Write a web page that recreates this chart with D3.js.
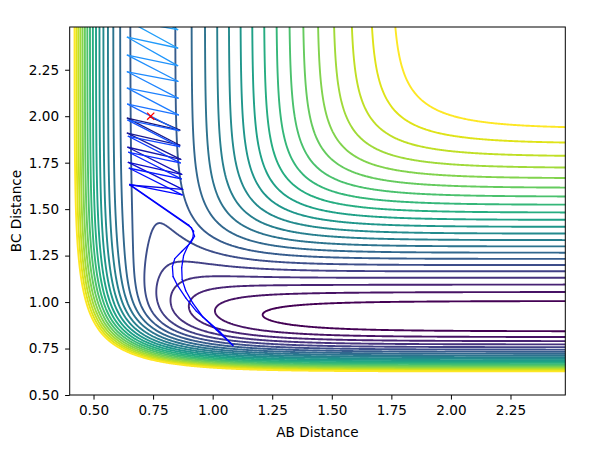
<!DOCTYPE html>
<html>
<head>
<meta charset="utf-8">
<script src="https://cdn.jsdelivr.net/npm/d3@7"></script>
<style>
body { margin: 0; background: #fff; }
svg text { font-family: "DejaVu Sans", sans-serif; fill: #000; }
</style>
</head>
<body>
<svg id="chart" width="605" height="449"></svg>
<script>
//////////////////////////////////////////////////////////////////////////////
//LEPS surface, pair 0 = H-H (AB), pair 1 = H-F (BC and AC)
var pairNames = ["HH", "HF"];
var wellDepth = [458, 591];
var morseBeta = [1.94, 2.2];
var bondLength = [0.74, 0.917];
var satoParam = [0.185, 0.195];

var contourLevels = [-572.3, -550.7, -529.2, -507.6, -486.0, -464.4, -442.9, -421.3,
  -399.7, -378.2, -356.6, -335.0, -313.5, -291.9, -270.3, -248.8, -227.2, -205.6,
  -184.1, -162.5, -140.9, -119.3];

var xTicks = [0.5, 0.75, 1.0, 1.25, 1.5, 1.75, 2.0, 2.25];
var yTicks = [0.5, 0.75, 1.0, 1.25, 1.5, 1.75, 2.0, 2.25];
var xDomain = [0.4, 2.48];
var yDomain = [0.5, 2.48];

//trajectory (AB, BC)
var startPoint = [0.74, 2.0];
var trajAB = [0.737, 0.862, 0.642, 0.862, 0.642, 0.866, 0.644, 0.870, 0.646, 0.874, 0.652,
  0.911, 0.924, 0.908, 0.870, 0.841, 0.831, 0.834, 0.853, 0.887, 0.932, 0.987, 1.029, 1.085,
  1.015, 0.958, 0.916, 0.887, 0.872, 0.870, 0.878, 0.895, 0.917, 0.920, 0.899,
  0.652, 0.872, 0.650, 0.868, 0.648, 0.864, 0.646, 0.861, 0.644, 0.858, 0.643, 0.856,
  0.642, 0.855, 0.642, 0.854, 0.642, 0.853, 0.642, 0.853, 0.642, 0.853, 0.642];
var trajBC = [1.996, 1.925, 1.990, 1.844, 1.909, 1.768, 1.833, 1.687, 1.752, 1.606, 1.630,
  1.400, 1.354, 1.320, 1.272, 1.234, 1.191, 1.137, 1.088, 1.023, 0.950, 0.889, 0.842, 0.766,
  0.851, 0.921, 0.996, 1.061, 1.121, 1.185, 1.250, 1.299, 1.346, 1.382, 1.415,
  1.633, 1.577, 1.720, 1.663, 1.806, 1.749, 1.892, 1.836, 1.979, 1.922, 2.065, 2.007,
  2.151, 2.097, 2.239, 2.188, 2.329, 2.272, 2.425, 2.367, 2.515, 2.466, 2.610];
var trajColorStops = [0, 0.08, 0.2, 0.62, 0.82, 1];
var trajColors = ["#191970", "#1a1aa0", "#0000ff", "#0000ff", "#1e7dff", "#22a6f8"];

//////////////////////////////////////////////////////////////////////////////
function pairTerms(p, r) {
  var S = satoParam[p], D = wellDepth[p],
    e1 = Math.exp(-morseBeta[p] * (r - bondLength[p])), e2 = e1 * e1;
  return {
    q: D / 4 * ((3 + S) * e2 - (2 + 6 * S) * e1) / (1 + S),
    j: D / 4 * ((1 + 3 * S) * e2 - (6 + 2 * S) * e1) / (1 + S)
  };
}
function leps(ab, bc) {
  var a = pairTerms(0, ab), b = pairTerms(1, bc), c = pairTerms(1, ab + bc);
  var ex = 0.5 * ((a.j - b.j) * (a.j - b.j) + (b.j - c.j) * (b.j - c.j) + (c.j - a.j) * (c.j - a.j));
  return a.q + b.q + c.q - Math.sqrt(ex);
}

var svg = d3.select("#chart");
var P = { left: 69.7, right: 565.3, top: 27, bottom: 395 };

var x = d3.scaleLinear().domain(xDomain).range([P.left, P.right]);
var y = d3.scaleLinear().domain(yDomain).range([P.bottom, P.top]);

svg.append("defs").append("clipPath").attr("id", "plotClip")
  .append("rect")
  .attr("x", P.left).attr("y", P.top)
  .attr("width", P.right - P.left).attr("height", P.bottom - P.top);

//grid a little larger than the axes so the grid border falls outside the clip
var g0x = 0.38, g0y = 0.48, step = 0.004,
  nx = Math.round((2.50 - g0x) / step) + 1,
  ny = Math.round((2.50 - g0y) / step) + 1,
  values = new Float64Array(nx * ny);
for (var j = 0; j < ny; j++) {
  for (var i = 0; i < nx; i++) {
    values[j * nx + i] = leps(g0x + i * step, g0y + j * step);
  }
}

var contours = d3.contours().size([nx, ny]).thresholds(contourLevels)(values);
var gridPath = d3.geoPath(d3.geoTransform({
  point: function (px, py) {
    this.stream.point(x(g0x + (px - 0.5) * step), y(g0y + (py - 0.5) * step));
  }
}));
var lmin = d3.min(contourLevels), lmax = d3.max(contourLevels);

var plot = svg.append("g").attr("clip-path", "url(#plotClip)");
plot.append("g").attr("class", "gContours")
  .selectAll("path").data(contours).enter().append("path")
  .attr("d", gridPath)
  .style("fill", "none")
  .style("stroke", function (d) { return d3.interpolateViridis((d.value - lmin) / (lmax - lmin)); })
  .style("stroke-width", 1.9)
  .style("stroke-linejoin", "round");

//trajectory, coloured along time
var nSeg = trajAB.length - 1;
var trajColor = d3.scaleLinear().domain(trajColorStops).range(trajColors).interpolate(d3.interpolateRgb);
var segs = d3.range(nSeg);
plot.append("g").attr("class", "gTraj")
  .selectAll("line").data(segs).enter().append("line")
  .attr("x1", function (k) { return x(trajAB[k]); })
  .attr("y1", function (k) { return y(trajBC[k]); })
  .attr("x2", function (k) { return x(trajAB[k + 1]); })
  .attr("y2", function (k) { return y(trajBC[k + 1]); })
  .style("stroke", function (k) { return trajColor(k / (nSeg - 1)); })
  .style("stroke-width", 1.3)
  .style("stroke-linecap", "round");

//start marker
var sx = x(startPoint[0]), sy = y(startPoint[1]), m = 3.6;
plot.append("path")
  .attr("d", "M" + (sx - m) + "," + (sy - m) + "L" + (sx + m) + "," + (sy + m) +
    "M" + (sx - m) + "," + (sy + m) + "L" + (sx + m) + "," + (sy - m))
  .style("stroke", "red").style("stroke-width", 1.3).style("fill", "none");

//axes
var fmt = d3.format(".2f");
var xAxis = svg.append("g").attr("transform", "translate(0," + P.bottom + ")")
  .call(d3.axisBottom(x).tickValues(xTicks).tickFormat(fmt).tickSize(4.6).tickSizeOuter(0).tickPadding(5.5));
var yAxis = svg.append("g").attr("transform", "translate(" + P.left + ",0)")
  .call(d3.axisLeft(y).tickValues(yTicks).tickFormat(fmt).tickSize(4.6).tickSizeOuter(0).tickPadding(6));
[xAxis, yAxis].forEach(function (a) {
  a.select(".domain").remove();
  a.selectAll("line").style("stroke", "#000").style("stroke-width", 1);
  a.selectAll("text").style("font-size", "13.6px").style("font-family", "DejaVu Sans");
});

svg.append("rect")
  .attr("x", P.left).attr("y", P.top)
  .attr("width", P.right - P.left).attr("height", P.bottom - P.top)
  .style("fill", "none").style("stroke", "#000").style("stroke-width", 1);

svg.append("text")
  .attr("x", (P.left + P.right) / 2).attr("y", 436.5)
  .attr("text-anchor", "middle").style("font-size", "13.6px")
  .text("AB Distance");
svg.append("text")
  .attr("transform", "translate(20.5," + ((P.top + P.bottom) / 2) + ") rotate(-90)")
  .attr("text-anchor", "middle").style("font-size", "13.6px")
  .text("BC Distance");
</script>
</body>
</html>
